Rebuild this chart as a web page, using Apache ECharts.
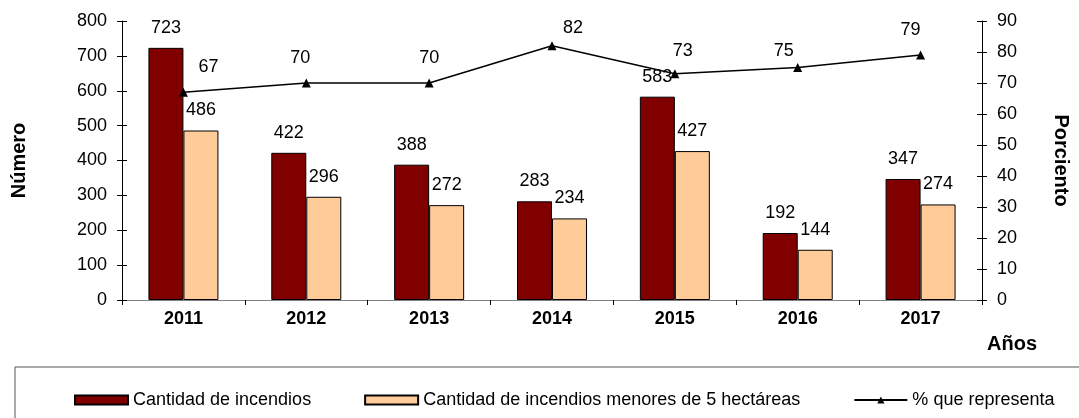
<!DOCTYPE html>
<html>
<head>
<meta charset="utf-8">
<script src="https://cdn.jsdelivr.net/npm/echarts@6/dist/echarts.min.js"></script>
<style>
  html, body { margin: 0; padding: 0; background: #fff; }
  #chart { width: 1079px; height: 418px; }
</style>
</head>
<body>
<div id="chart"></div>
<script>
// datos
var years = ['2011', '2012', '2013', '2014', '2015', '2016', '2017']
var incendios = [723, 422, 388, 283, 583, 192, 347]
var menores = [486, 296, 272, 234, 427, 144, 274]
var porciento = [67, 70, 70, 82, 73, 75, 79]
var ticksNumero = [0, 100, 200, 300, 400, 500, 600, 700, 800]
var ticksPorciento = [0, 10, 20, 30, 40, 50, 60, 70, 80, 90]

// desplazamiento de las etiquetas del % (como en el original)
var lineLabelShift = [[25, -25], [-6, -25], [0, -25], [21, -18], [8, -23], [-14, -16], [-10, -25]]

var font = 'Liberation Sans, Arial, sans-serif'
var myChart = echarts.init(document.getElementById('chart'))

var tickCross = { show: true, length: 5, lineStyle: { color: '#000' } }

var option = {
  animation: false,
  textStyle: { fontFamily: font },
  grid: { left: 122, right: 89, top: 21, bottom: 118 },
  legend: {
    left: 69,
    top: 386,
    itemGap: 53,
    itemWidth: 53,
    itemHeight: 9,
    textStyle: { fontFamily: font, fontSize: 18, color: '#000' },
    data: [
      { name: 'Cantidad de incendios', icon: 'rect' },
      { name: 'Cantidad de incendios menores de 5 hectáreas', icon: 'rect' },
      { name: '% que representa' }
    ]
  },
  graphic: [
    {
      type: 'rect',
      shape: { x: 15, y: 367, width: 1100, height: 70 },
      style: { fill: 'none', stroke: '#555', lineWidth: 1 }
    },
    {
      type: 'text',
      left: 987,
      top: 334,
      style: { text: 'Años', font: 'bold 20px ' + font, fill: '#000' }
    }
  ],
  xAxis: {
    type: 'category',
    data: years,
    axisLine: { lineStyle: { color: '#808080' } },
    axisTick: { show: true, length: 5, lineStyle: { color: '#000' } },
    axisLabel: { color: '#000', fontSize: 18, fontWeight: 'bold', margin: 10 }
  },
  yAxis: [
    {
      type: 'value',
      min: ticksNumero[0],
      max: ticksNumero[ticksNumero.length - 1],
      interval: ticksNumero[1] - ticksNumero[0],
      name: 'Número',
      nameLocation: 'middle',
      nameRotate: 90,
      nameGap: 93,
      nameTextStyle: { fontSize: 20, fontWeight: 'bold', color: '#000' },
      splitLine: { show: false },
      axisLine: { show: true, lineStyle: { color: '#000' } },
      axisTick: tickCross,
      axisLabel: { color: '#000', fontSize: 18, margin: 15 }
    },
    {
      type: 'value',
      min: ticksPorciento[0],
      max: ticksPorciento[ticksPorciento.length - 1],
      interval: ticksPorciento[1] - ticksPorciento[0],
      name: 'Porciento',
      nameLocation: 'middle',
      nameRotate: -90,
      nameGap: 69,
      nameTextStyle: { fontSize: 20, fontWeight: 'bold', color: '#000' },
      splitLine: { show: false },
      axisLine: { show: true, lineStyle: { color: '#000' } },
      axisTick: tickCross,
      axisLabel: { color: '#000', fontSize: 18, margin: 15 }
    },
    // solo para que las marcas crucen el eje (como en Excel)
    {
      type: 'value', position: 'left', min: 0, max: 800, interval: 100,
      splitLine: { show: false }, axisLine: { show: false }, axisLabel: { show: false },
      axisTick: { show: true, inside: true, length: 5, lineStyle: { color: '#000' } }
    },
    {
      type: 'value', position: 'right', min: 0, max: 90, interval: 10,
      splitLine: { show: false }, axisLine: { show: false }, axisLabel: { show: false },
      axisTick: { show: true, inside: true, length: 5, lineStyle: { color: '#000' } }
    }
  ],
  series: [
    {
      name: 'Cantidad de incendios',
      type: 'bar',
      data: incendios,
      barWidth: 35,
      barGap: '0%',
      itemStyle: { color: '#800000', borderColor: '#000', borderWidth: 1 },
      label: { show: true, position: 'top', distance: 11, color: '#000', fontSize: 18 }
    },
    {
      name: 'Cantidad de incendios menores de 5 hectáreas',
      type: 'bar',
      data: menores,
      barWidth: 35,
      barGap: '0%',
      itemStyle: { color: '#FFCC99', borderColor: '#000', borderWidth: 1 },
      label: { show: true, position: 'top', distance: 11, color: '#000', fontSize: 18 }
    },
    {
      name: '% que representa',
      type: 'line',
      yAxisIndex: 1,
      data: porciento.map(function (v, i) {
        return { value: v, label: { offset: lineLabelShift[i] } }
      }),
      symbol: 'triangle',
      symbolSize: 9,
      lineStyle: { color: '#000', width: 1.5 },
      itemStyle: { color: '#000' },
      label: { show: true, position: 'inside', color: '#000', fontSize: 18 }
    }
  ]
}

option && myChart.setOption(option)
</script>
</body>
</html>
